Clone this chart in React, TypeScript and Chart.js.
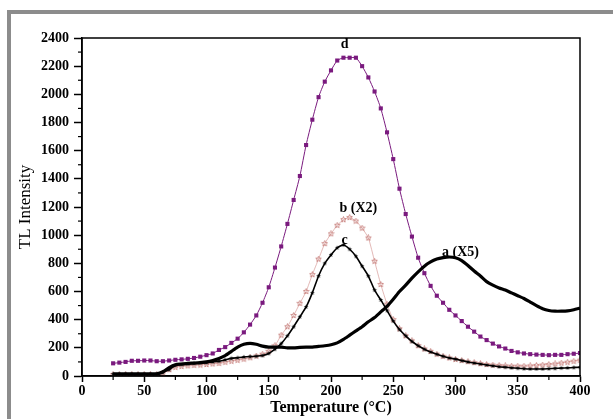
import React, { useEffect, useRef } from "react";
import { Chart, registerables } from "chart.js";
Chart.register(...registerables);

const temperatures = [25,30,35,40,45,50,55,60,65,70,75,80,85,90,95,100,105,110,115,120,125,130,135,140,145,150,155,160,165,170,175,180,185,190,195,200,205,210,215,220,225,230,235,240,245,250,255,260,265,270,275,280,285,290,295,300,305,310,315,320,325,330,335,340,345,350,355,360,365,370,375,380,385,390,395,400];

const seriesA = [15,15,15,15,15,15,15,15,30,60,80,85,90,92,95,100,110,125,145,175,205,225,232,225,212,205,205,205,200,200,203,205,205,210,215,222,235,260,290,320,350,385,415,455,495,545,600,645,695,740,780,810,830,840,845,840,820,785,745,710,670,645,625,610,590,570,550,525,500,478,465,460,460,462,470,482];

const seriesB = [10,10,10,10,10,10,10,10,20,45,62,68,72,76,78,82,86,90,98,105,112,120,130,142,155,175,215,290,350,430,516,600,720,830,940,1010,1070,1110,1125,1100,1050,980,815,650,510,400,335,285,250,215,192,175,155,140,128,118,110,102,95,88,82,78,75,72,70,70,70,72,75,78,82,86,92,98,105,112];

const seriesC = [15,15,15,15,15,15,15,15,25,45,75,82,85,90,92,95,100,105,115,125,130,135,138,140,145,160,190,230,285,350,420,490,590,710,800,860,910,930,900,850,780,710,610,540,465,390,330,285,245,215,190,170,155,140,128,120,110,100,92,85,78,72,66,62,58,55,52,50,50,50,52,54,56,58,60,62];

const seriesD = [90,95,100,108,108,110,110,105,105,110,115,118,122,128,137,148,160,185,205,235,265,310,365,430,520,630,770,920,1080,1250,1420,1640,1820,1980,2090,2170,2240,2260,2260,2260,2200,2120,2020,1900,1730,1540,1330,1150,990,840,730,640,570,520,470,430,390,350,315,280,255,230,210,195,178,168,160,155,152,150,148,150,150,155,158,163];

const xTicks = [0,50,100,150,200,250,300,350,400];
const xMinor = [25,75,125,175,225,275,325,375];
const yTicks = [0,200,400,600,800,1000,1200,1400,1600,1800,2000,2200,2400];
const yMinor = [100,300,500,700,900,1100,1300,1500,1700,1900,2100,2300];

const curveLabels = ["d", "b (X2)", "c", "a (X5)"];
const labelT = [211, 222, 211, 304];
const labelI = [2353, 1193, 966, 880];

const SERIF = '"Liberation Serif", "Times New Roman", serif';

function makeStar(size: number, stroke: string | null, fill: string | null) {
  const c = document.createElement("canvas");
  c.width = size;
  c.height = size;
  const ctx = c.getContext("2d")!;
  const cx = size / 2, cy = size / 2;
  const R = size / 2 - 0.6, r = R * 0.45;
  ctx.beginPath();
  for (let i = 0; i < 10; i++) {
    const ang = -Math.PI / 2 + (i * Math.PI) / 5;
    const rad = i % 2 === 0 ? R : r;
    ctx.lineTo(cx + rad * Math.cos(ang), cy + rad * Math.sin(ang));
  }
  ctx.closePath();
  if (fill) { ctx.fillStyle = fill; ctx.fill(); }
  if (stroke) { ctx.strokeStyle = stroke; ctx.lineWidth = 0.8; ctx.stroke(); }
  return c;
}

const decor = {
  id: "decor",
  afterDraw(chart: any) {
    const { ctx, chartArea: a, scales } = chart;
    const x = scales.x, y = scales.y;
    ctx.save();
    ctx.strokeStyle = "#000";
    ctx.lineWidth = 1.5;
    ctx.strokeRect(a.left, a.top, a.right - a.left, a.bottom - a.top);
    ctx.lineWidth = 1.2;
    for (const v of xMinor) {
      const px = x.getPixelForValue(v);
      ctx.beginPath(); ctx.moveTo(px, a.bottom); ctx.lineTo(px, a.bottom + 4); ctx.stroke();
    }
    for (const v of yMinor) {
      const py = y.getPixelForValue(v);
      ctx.beginPath(); ctx.moveTo(a.left - 4, py); ctx.lineTo(a.left, py); ctx.stroke();
    }
    ctx.font = "bold 14px " + SERIF;
    ctx.fillStyle = "#000";
    ctx.textAlign = "center";
    ctx.textBaseline = "middle";
    curveLabels.forEach((t, i) => {
      ctx.fillText(t, x.getPixelForValue(labelT[i]), y.getPixelForValue(labelI[i]));
    });
    ctx.restore();
  },
};

export default function App() {
  const ref = useRef<HTMLCanvasElement | null>(null);
  useEffect(() => {
    if (!ref.current) return;
    const pts = (arr: number[]) => temperatures.map((t, i) => ({ x: t, y: arr[i] }));
    const starOpen = makeStar(7, "#c0706c", null);
    const starFill = makeStar(6, null, "#000");
    const chart = new Chart(ref.current, {
      type: "line",
      data: {
        datasets: [
          {
            label: "a (X5)",
            data: pts(seriesA),
            borderColor: "#000",
            borderWidth: 3.2,
            pointRadius: 0,
            tension: 0.2,
          },
          {
            label: "c",
            data: pts(seriesC),
            borderColor: "#000",
            borderWidth: 1.6,
            pointStyle: starFill as any,
            pointRadius: 3,
            tension: 0.2,
          },
          {
            label: "b (X2)",
            data: pts(seriesB),
            borderColor: "#d08a86",
            borderWidth: 0.6,
            pointStyle: starOpen as any,
            pointRadius: 3.5,
            tension: 0.2,
          },
          {
            label: "d",
            data: pts(seriesD),
            borderColor: "#7a1a7e",
            backgroundColor: "#7a1a7e",
            borderWidth: 1,
            pointStyle: "rect",
            pointRadius: 2.9,
            pointBorderWidth: 0,
            tension: 0.2,
          },
        ],
      },
      options: {
        responsive: false,
        animation: false,
        layout: { padding: { left: 0, right: 33, top: 38, bottom: 0 } },
        plugins: { legend: { display: false }, tooltip: { enabled: false } },
        scales: {
          x: {
            type: "linear",
            min: 0,
            max: 400,
            afterBuildTicks: (s: any) => { s.ticks = xTicks.map((v) => ({ value: v })); },
            afterFit: (s: any) => { s.height = 43; },
            ticks: {
              color: "#000",
              font: { family: SERIF, size: 14, weight: "bold" },
              padding: 1,
              maxRotation: 0,
              callback: (v: any) => String(v),
            },
            grid: { drawOnChartArea: false, tickLength: 6, color: "#000", tickWidth: 1.5 },
            border: { color: "#000", width: 1.5 },
            title: {
              display: true,
              text: "Temperature (°C)",
              color: "#000",
              font: { family: SERIF, size: 16, weight: "bold" },
              padding: { top: 0, bottom: 2 },
            },
          },
          y: {
            type: "linear",
            min: 0,
            max: 2400,
            afterBuildTicks: (s: any) => { s.ticks = yTicks.map((v) => ({ value: v })); },
            afterFit: (s: any) => { s.width = 82; },
            ticks: {
              color: "#000",
              font: { family: SERIF, size: 14, weight: "bold" },
              padding: 5,
              callback: (v: any) => String(v),
            },
            grid: { drawOnChartArea: false, tickLength: 8, color: "#000", tickWidth: 1.5 },
            border: { color: "#000", width: 1.5 },
            title: {
              display: true,
              text: "TL Intensity",
              color: "#000",
              font: { family: SERIF, size: 17, weight: "normal" },
              padding: { top: 15, bottom: 0 },
            },
          },
        },
      },
      plugins: [decor],
    } as any);
    return () => chart.destroy();
  }, []);

  return (
    <>
      <div
        style={{
          position: "fixed",
          left: 7,
          top: 10,
          width: 700,
          height: 500,
          border: "4px solid #8c8c8c",
          boxSizing: "border-box",
        }}
      />
      <div style={{ position: "fixed", left: 0, top: 0, width: 613, height: 419 }}>
        <canvas ref={ref} width={613} height={419} style={{ display: "block" }} />
      </div>
    </>
  );
}
